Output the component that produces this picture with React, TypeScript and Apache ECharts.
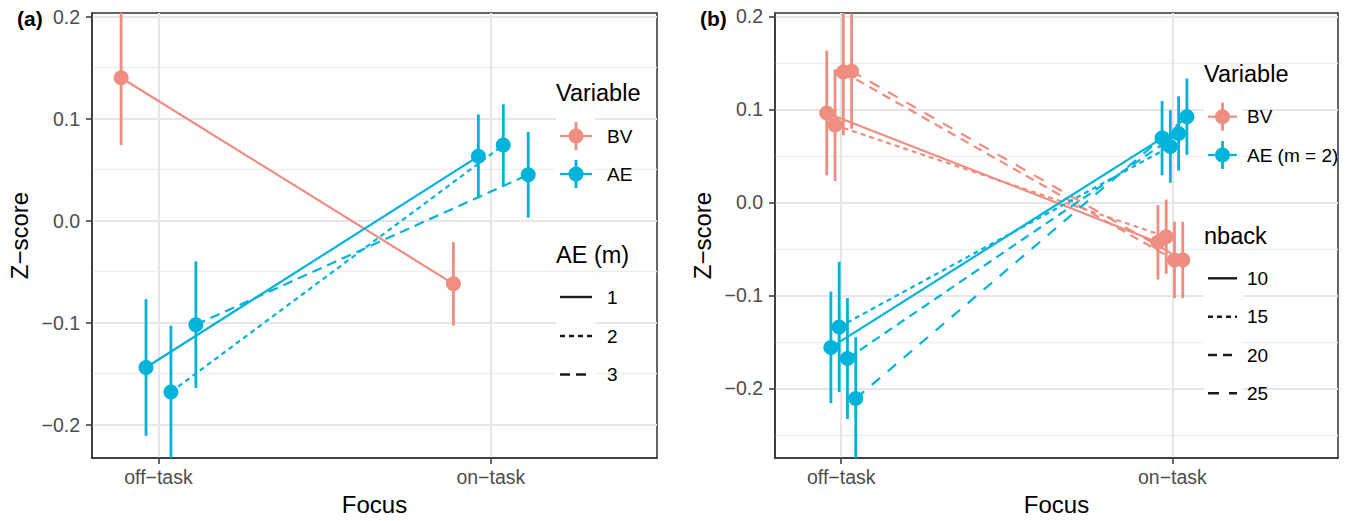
import { useEffect, useRef } from 'react';
import * as echarts from 'echarts';

// ---------- data ----------
const focusLabels = ['off−task', 'on−task'];
const focusPos = [1, 2];
const yTicks = [-0.2, -0.1, 0, 0.1, 0.2];
const aMinorTicks = [-0.15, -0.05, 0.05, 0.15];
const bMinorTicks = [-0.25, -0.15, -0.05, 0.05, 0.15];

// Panel (a)
const aBVMean = [0.14, -0.062];
const aBVCi = [0.066, 0.041];
const aMLevels = ['1', '2', '3'];
const aAE1Mean = [-0.144, 0.063];
const aAE2Mean = [-0.168, 0.074];
const aAE3Mean = [-0.102, 0.045];
const aAE1Ci = [0.067, 0.041];
const aAE2Ci = [0.065, 0.04];
const aAE3Ci = [0.062, 0.042];

// Panel (b)
const nbackLevels = ['10', '15', '20', '25'];
const bBV10 = [0.096, -0.043];
const bBV15 = [0.083, -0.037];
const bBV20 = [0.14, -0.062];
const bBV25 = [0.141, -0.062];
const bBVCi10 = [0.067, 0.04];
const bBVCi15 = [0.06, 0.04];
const bBVCi20 = [0.068, 0.041];
const bBVCi25 = [0.062, 0.041];
const bAE10 = [-0.156, 0.069];
const bAE15 = [-0.134, 0.06];
const bAE20 = [-0.168, 0.074];
const bAE25 = [-0.211, 0.092];
const bAECi10 = [0.06, 0.04];
const bAECi15 = [0.07, 0.039];
const bAECi20 = [0.065, 0.04];
const bAECi25 = [0.066, 0.041];

// ---------- style ----------
const FONT = '"Liberation Sans", Arial, Helvetica, sans-serif';
const SALMON = '#EE8D80';
const BLUE = '#00B3DA';
const DARK = '#333333';
const MAJOR = '#E6E6E9';
const MINOR = '#EEEEF0';
const TICKFONT = 19.5;
const DOT = [5, 4];
const DASH = [10, 6];
const LONG = [11, 10];
const aTypes: any[] = ['solid', DOT, DASH];
const bTypes: any[] = ['solid', DOT, [9, 6], LONG];

const fmtY = (v: number) => (v < -1e-9 ? '−' : '') + Math.abs(v).toFixed(1);

function groupSeries(
  grid: number,
  means: number[],
  cis: number[],
  offset: number,
  color: string,
  lineType: any
) {
  const pts = focusPos.map((p, i) => [p + offset, means[i]]);
  const bars = focusPos.map((p, i) => [p + offset, means[i] - cis[i], means[i] + cis[i]]);
  return [
    {
      type: 'line',
      xAxisIndex: grid,
      yAxisIndex: grid * 2,
      data: pts,
      symbol: 'none',
      lineStyle: { color, width: 2.2, type: lineType },
      z: 2,
      silent: true,
    },
    {
      type: 'custom',
      xAxisIndex: grid,
      yAxisIndex: grid * 2,
      data: bars,
      encode: { x: 0, y: [1, 2] },
      clip: true,
      z: 3,
      silent: true,
      renderItem: (_p: any, api: any) => {
        const x = api.value(0);
        const a = api.coord([x, api.value(1)]);
        const b = api.coord([x, api.value(2)]);
        return {
          type: 'line',
          shape: { x1: a[0], y1: a[1], x2: b[0], y2: b[1] },
          style: { stroke: color, lineWidth: 2.8 },
        };
      },
    },
    {
      type: 'scatter',
      xAxisIndex: grid,
      yAxisIndex: grid * 2,
      data: pts,
      symbol: 'circle',
      symbolSize: 15,
      itemStyle: { color, opacity: 1 },
      z: 4,
      silent: true,
    },
  ];
}

function xAxisFor(grid: number) {
  return {
    type: 'value',
    gridIndex: grid,
    min: 0.8,
    max: 2.5,
    name: 'Focus',
    nameLocation: 'middle',
    nameGap: 34,
    nameTextStyle: { fontSize: 24, color: '#000', fontFamily: FONT },
    axisLine: { show: true, onZero: false, lineStyle: { color: DARK, width: 1.5 } },
    axisTick: { show: true, length: 6, customValues: focusPos, lineStyle: { color: DARK, width: 1.5 } },
    axisLabel: {
      customValues: focusPos,
      formatter: (v: number) => focusLabels[Math.round(v) - 1] ?? '',
      fontSize: TICKFONT,
      color: '#4D4D4D',
      margin: 9,
      fontFamily: FONT,
    },
    splitLine: { show: true, lineStyle: { color: MAJOR, width: 2 } },
  };
}

function yAxesFor(grid: number, min: number, max: number, minor: number[]) {
  return [
    {
      type: 'value',
      gridIndex: grid,
      position: 'left',
      min,
      max,
      name: 'Z−score',
      nameLocation: 'middle',
      nameGap: 61,
      nameTextStyle: { fontSize: 24, color: '#000', fontFamily: FONT },
      axisLine: { show: true, onZero: false, lineStyle: { color: DARK, width: 1.5 } },
      axisTick: { show: true, length: 6, customValues: yTicks, lineStyle: { color: DARK, width: 1.5 } },
      axisLabel: {
        customValues: yTicks,
        formatter: fmtY,
        fontSize: TICKFONT,
        color: '#4D4D4D',
        margin: 12,
        fontFamily: FONT,
      },
      splitLine: { show: true, lineStyle: { color: MAJOR, width: 2 } },
      z: 1,
    },
    {
      type: 'value',
      gridIndex: grid,
      position: 'left',
      min,
      max,
      axisLine: { show: false },
      axisTick: { show: false, customValues: minor },
      axisLabel: { show: false, customValues: minor },
      splitLine: { show: true, lineStyle: { color: MINOR, width: 1.3 } },
      z: 0,
    },
  ];
}

// ---------- legend graphics ----------
function txt(x: number, y: number, text: string, size: number, extra: any = {}) {
  return {
    type: 'text',
    x,
    y,
    z: 100,
    style: {
      text,
      fontSize: size,
      fontFamily: FONT,
      fill: '#000',
      textAlign: 'left',
      textVerticalAlign: 'middle',
      ...extra,
    },
  };
}

function keyBg(x0: number, x1: number, y: number) {
  return {
    type: 'rect',
    z: 99,
    shape: { x: x0, y: y - 19, width: x1 - x0, height: 38 },
    style: { fill: '#fff' },
  };
}

function pointKey(x0: number, x1: number, y: number, color: string) {
  const cx = (x0 + x1) / 2;
  return [
    { type: 'line', z: 101, shape: { x1: x0, y1: y, x2: x1, y2: y }, style: { stroke: color, lineWidth: 2.2 } },
    { type: 'line', z: 101, shape: { x1: cx, y1: y - 14, x2: cx, y2: y + 14 }, style: { stroke: color, lineWidth: 2.8 } },
    { type: 'circle', z: 102, shape: { cx, cy: y, r: 7.5 }, style: { fill: color } },
  ];
}

function lineKey(x0: number, x1: number, y: number, dash: any) {
  return {
    type: 'line',
    z: 101,
    shape: { x1: x0, y1: y, x2: x1, y2: y },
    style: { stroke: '#1A1A1A', lineWidth: 2.4, lineDash: dash === 'solid' ? null : dash },
  };
}

function buildGraphics() {
  const g: any[] = [];
  g.push(txt(17, 18, '(a)', 21, { fontWeight: 'bold' }));
  g.push(txt(700, 18, '(b)', 21, { fontWeight: 'bold' }));

  // Panel (a) legends
  const aR0 = 556, aR1 = 595, aK0 = 560, aK1 = 592, aLab = 607;
  g.push(txt(556, 93, 'Variable', 23.5));
  const aVarY = [136, 174];
  const aVarLab = ['BV', 'AE'];
  const aVarCol = [SALMON, BLUE];
  aVarY.forEach((y, i) => {
    g.push(keyBg(aR0, aR1, y));
    g.push(...pointKey(aK0, aK1, y, aVarCol[i]));
    g.push(txt(aLab, y, aVarLab[i], 19));
  });
  g.push(txt(556, 255, 'AE (m)', 23.5));
  const aMY = [297, 336, 374.5];
  aMY.forEach((y, i) => {
    g.push(keyBg(aR0, aR1, y));
    g.push(lineKey(aK0, aK1, y, aTypes[i]));
    g.push(txt(aLab, y, aMLevels[i], 19));
  });

  // Panel (b) legends
  const bR0 = 1204, bR1 = 1243, bK0 = 1208, bK1 = 1237, bLab = 1247;
  g.push(txt(1204, 74, 'Variable', 23.5));
  const bVarY = [116.7, 155];
  const bVarLab = ['BV', 'AE (m = 2)'];
  bVarY.forEach((y, i) => {
    g.push(keyBg(bR0, bR1, y));
    g.push(...pointKey(bK0, bK1, y, aVarCol[i]));
    g.push(txt(bLab, y, bVarLab[i], 19));
  });
  g.push(txt(1204, 236, 'nback', 23.5));
  const bNY = [278.3, 316.7, 355, 393.3];
  bNY.forEach((y, i) => {
    g.push(keyBg(bR0, bR1, y));
    g.push(lineKey(bK0, bK1, y, bTypes[i]));
    g.push(txt(bLab, y, nbackLevels[i], 19));
  });
  return g;
}

function buildOption() {
  const series: any[] = [];
  // Panel (a)
  series.push(...groupSeries(0, aBVMean, aBVCi, -0.1125, SALMON, 'solid'));
  const aMeans = [aAE1Mean, aAE2Mean, aAE3Mean];
  const aCis = [aAE1Ci, aAE2Ci, aAE3Ci];
  const aOff = [-0.0375, 0.0375, 0.1125];
  aMeans.forEach((m, i) => series.push(...groupSeries(0, m, aCis[i], aOff[i], BLUE, aTypes[i])));

  // Panel (b)
  const bBV = [bBV10, bBV15, bBV20, bBV25];
  const bBVCi = [bBVCi10, bBVCi15, bBVCi20, bBVCi25];
  const bAE = [bAE10, bAE15, bAE20, bAE25];
  const bAECi = [bAECi10, bAECi15, bAECi20, bAECi25];
  const bBVOff = [-0.04375, -0.01875, 0.00625, 0.03125];
  const bAEOff = [-0.03125, -0.00625, 0.01875, 0.04375];
  bBV.forEach((m, i) => series.push(...groupSeries(1, m, bBVCi[i], bBVOff[i], SALMON, bTypes[i])));
  bAE.forEach((m, i) => series.push(...groupSeries(1, m, bAECi[i], bAEOff[i], BLUE, bTypes[i])));

  return {
    animation: false,
    backgroundColor: '#fff',
    textStyle: { fontFamily: FONT },
    grid: [
      { left: 92, top: 13, width: 565, height: 448, show: true, borderColor: DARK, borderWidth: 1.5, backgroundColor: 'transparent' },
      { left: 775, top: 13, width: 563, height: 448, show: true, borderColor: DARK, borderWidth: 1.5, backgroundColor: 'transparent' },
    ],
    xAxis: [xAxisFor(0), xAxisFor(1)],
    yAxis: [
      ...yAxesFor(0, -0.2327, 0.2035, aMinorTicks),
      ...yAxesFor(1, -0.2749, 0.2035, bMinorTicks),
    ],
    series,
    graphic: buildGraphics(),
  };
}

export default function App() {
  const ref = useRef<HTMLDivElement>(null);
  useEffect(() => {
    if (!ref.current) return;
    const chart = echarts.init(ref.current, undefined, { renderer: 'svg' });
    chart.setOption(buildOption() as any);
    return () => chart.dispose();
  }, []);
  return (
    <div
      ref={ref}
      style={{ position: 'absolute', left: 0, top: 0, width: 1346, height: 521, background: '#fff' }}
    />
  );
}
